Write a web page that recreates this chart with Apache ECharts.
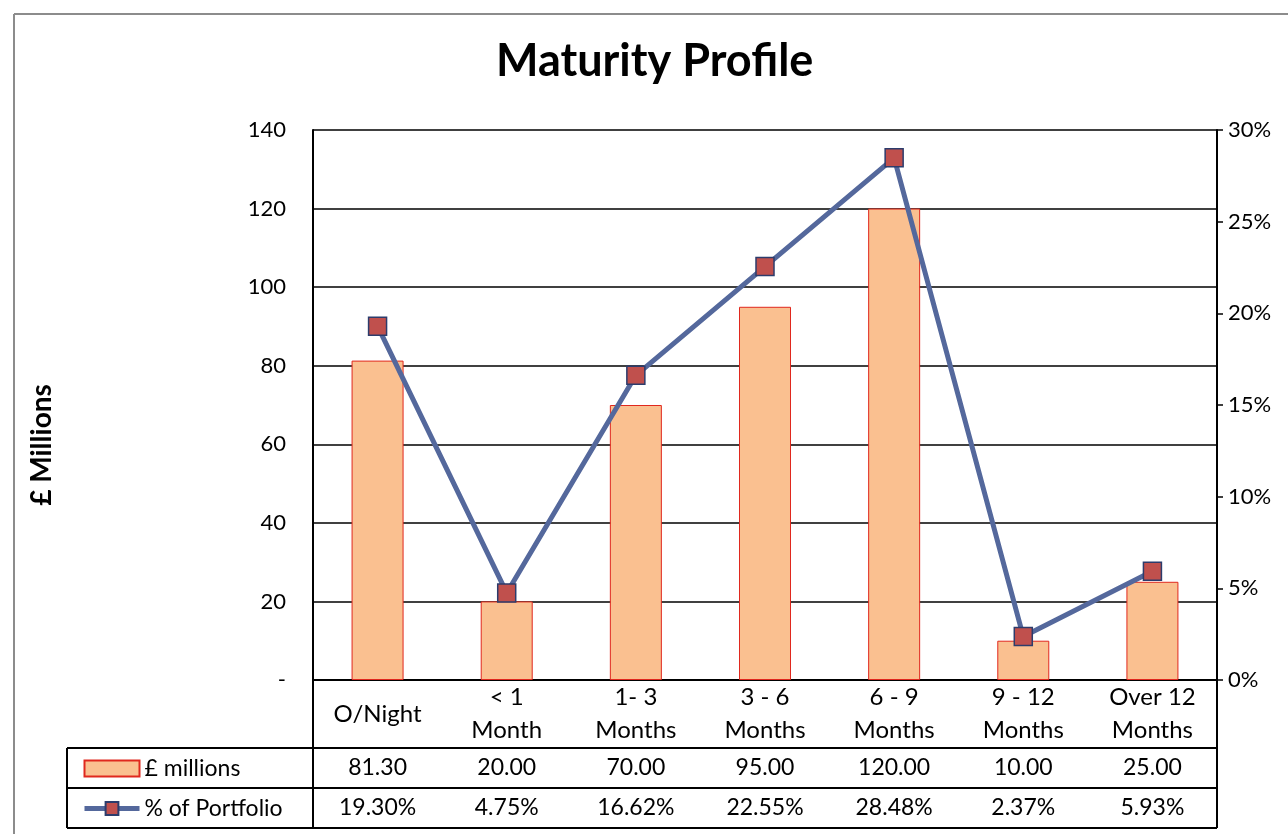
<!DOCTYPE html>
<html>
<head>
<meta charset="utf-8">
<script src="https://cdn.jsdelivr.net/npm/echarts@6/dist/echarts.min.js"></script>
<style>
  html, body { margin: 0; padding: 0; background: #fff; }
  #main { width: 1288px; height: 834px; }
</style>
</head>
<body>
<div id="main"></div>
<script>
// data
var categories = ['O/Night', '< 1\nMonth', '1- 3\nMonths', '3 - 6\nMonths', '6 - 9\nMonths', '9 - 12\nMonths', 'Over 12\nMonths'];
var millions = [81.30, 20.00, 70.00, 95.00, 120.00, 10.00, 25.00];
var portfolio = [19.30, 4.75, 16.62, 22.55, 28.48, 2.37, 5.93];
var leftTicks = [0, 140, 20];   // min, max, interval
var rightTicks = [0, 30, 5];

var font = 'Lato, "Open Sans", sans-serif';
var colors = {
    bar: '#FAC090',
    barBorder: '#E0281E',
    line: '#54689C',
    marker: '#C0504D',
    markerBorder: '#2C3C6C',
    grid: '#000'
};

var myChart = echarts.init(document.getElementById('main'));

// table / frame lines (layout only)
var lineStyle = { stroke: '#000', lineWidth: 2 };
function hline(x1, x2, y) {
    return { type: 'line', shape: { x1: x1, y1: y, x2: x2, y2: y }, style: lineStyle, silent: true };
}
function vline(x, y1, y2) {
    return { type: 'line', shape: { x1: x, y1: y1, x2: x, y2: y2 }, style: lineStyle, silent: true };
}

var option = {
    backgroundColor: '#fff',
    animation: false,
    textStyle: { fontFamily: font, color: '#000' },
    title: {
        text: 'Maturity Profile',
        left: 491,
        top: 34,
        textStyle: { fontFamily: font, fontSize: 45, fontWeight: 'bold', color: '#000' }
    },
    legend: {
        orient: 'vertical',
        left: 77,
        top: 752,
        itemWidth: 55,
        itemHeight: 16,
        itemGap: 17,
        selectedMode: false,
        textStyle: { fontFamily: font, fontSize: 23, color: '#000' },
        lineStyle: { width: 5 },
        data: [{ name: '£ millions', icon: 'rect' }, { name: '% of Portfolio' }]
    },
    grid: {
        left: 313,
        right: 71,
        top: 130,
        bottom: 154,
        containLabel: false
    },
    xAxis: [{
        type: 'category',
        data: categories,
        axisLine: { lineStyle: { color: '#000', width: 2 } },
        axisTick: { show: false },
        axisLabel: {
            interval: 0,
            fontFamily: font,
            fontSize: 24,
            lineHeight: 33,
            color: '#000',
            verticalAlign: 'middle',
            margin: 34
        }
    }, {
        type: 'category',
        position: 'bottom',
        offset: 68,
        data: millions.map(function (v) { return v.toFixed(2); }),
        axisLine: { show: false },
        axisTick: { show: false },
        axisLabel: {
            interval: 0, fontFamily: font, fontSize: 23, color: '#000',
            verticalAlign: 'middle', margin: 20
        }
    }, {
        type: 'category',
        position: 'bottom',
        offset: 108,
        data: portfolio.map(function (v) { return v.toFixed(2) + '%'; }),
        axisLine: { show: false },
        axisTick: { show: false },
        axisLabel: {
            interval: 0, fontFamily: font, fontSize: 23, color: '#000',
            verticalAlign: 'middle', margin: 20
        }
    }],
    yAxis: [{
        type: 'value',
        min: leftTicks[0],
        max: leftTicks[1],
        interval: leftTicks[2],
        axisLine: { show: true, lineStyle: { color: '#000', width: 2 } },
        axisTick: { show: false },
        axisLabel: {
            fontFamily: font, fontSize: 22, color: '#000', margin: 27,
            formatter: function (v) { return v === 0 ? '-' : v; }
        },
        splitLine: { lineStyle: { color: colors.grid, width: 1.5 } }
    }, {
        type: 'value',
        position: 'right',
        min: rightTicks[0],
        max: rightTicks[1],
        interval: rightTicks[2],
        axisLine: { show: true, lineStyle: { color: '#000', width: 2 } },
        axisTick: { show: true, length: 6, lineStyle: { color: '#000', width: 1.5 } },
        axisLabel: {
            fontFamily: font, fontSize: 22, color: '#000', margin: 11,
            formatter: function (v) { return v + '%'; }
        },
        splitLine: { show: false }
    }],
    series: [{
        name: '£ millions',
        type: 'bar',
        data: millions,
        barWidth: 52,
        itemStyle: { color: colors.bar, borderColor: colors.barBorder, borderWidth: 1 },
        z: 2
    }, {
        name: '% of Portfolio',
        type: 'line',
        yAxisIndex: 1,
        data: portfolio,
        symbol: 'rect',
        symbolSize: 18,
        lineStyle: { color: colors.line, width: 5 },
        itemStyle: { color: colors.marker, borderColor: colors.markerBorder, borderWidth: 1.5 },
        z: 3
    }],
    graphic: [
        // outer frame
        { type: 'line', shape: { x1: 14, y1: 14, x2: 1288, y2: 14 }, style: { stroke: '#8c8c8c', lineWidth: 2 }, silent: true },
        { type: 'line', shape: { x1: 14, y1: 14, x2: 14, y2: 834 }, style: { stroke: '#8c8c8c', lineWidth: 2 }, silent: true },
        // y axis title
        {
            type: 'text', x: 42, y: 445, rotation: Math.PI / 2, silent: true,
            style: {
                text: '£ Millions', fontFamily: font, fontSize: 28, fontWeight: 'bold',
                fill: '#000', align: 'center', verticalAlign: 'middle'
            }
        },
        // data table
        hline(67, 1217, 748),
        hline(67, 1217, 788),
        hline(67, 1217, 828),
        vline(67, 748, 828),
        vline(313, 680, 828),
        vline(1217, 680, 828)
    ]
};

myChart.setOption(option);
</script>
</body>
</html>
